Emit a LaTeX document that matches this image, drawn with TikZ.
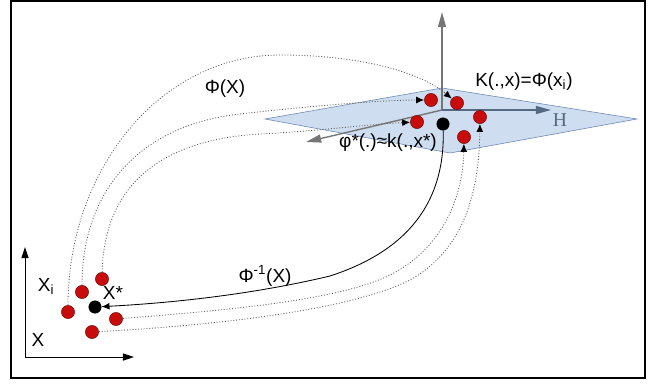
\documentclass[tikz,border=0pt]{standalone}
\usepackage{fontspec}
\setmainfont{Liberation Sans}
\newfontfamily\serifH{Liberation Serif}
\usepackage{tikz}
\usetikzlibrary{arrows.meta,calc}
\definecolor{dotred}{RGB}{200,12,12}
\definecolor{planeblue}{RGB}{206,221,240}
\definecolor{planeedge}{RGB}{105,135,175}
\definecolor{axisgrey}{RGB}{118,118,118}
\definecolor{axisblue}{RGB}{85,105,130}
\definecolor{mapgrey}{RGB}{95,95,95}
\tikzset{
    pt/.style={circle, draw=dotred!50!black, fill=dotred, line width=0.3pt, inner sep=0pt, minimum size=0.33cm},
    ptS/.style={circle, draw=black, fill=black, inner sep=0pt, minimum size=0.31cm},
    maplink/.style={mapgrey, line width=0.6pt, dash pattern=on 0.7pt off 1.3pt, -{Latex[length=0.2cm,width=0.17cm,color=black]}},
    invlink/.style={black, line width=0.6pt, -{Latex[length=0.2cm,width=0.17cm]}},
    axis/.style={axisgrey, line width=1pt, -{Triangle[length=0.38cm,width=0.2cm]}},
    baseaxis/.style={black, line width=0.7pt, -{Triangle[length=0.28cm,width=0.18cm]}},
    lbl/.style={font=\fontsize{13.5}{15}\selectfont, inner sep=0pt},
}

\begin{document}
\begin{tikzpicture}[x=0.025cm, y=-0.025cm]
    \useasboundingbox (0,0) rectangle (655,384);
    \draw[line width=0.05cm] (11,1) rectangle (645,378);

    % feature space plane
    \filldraw[fill=planeblue, draw=planeedge, line width=0.4pt]
        (265,119) -- (442,88) -- (637,119) -- (450,153) -- cycle;
    \coordinate (o) at (442,110);
    \coordinate (otop) at (442,12);
    \coordinate (oright) at (551,110);
    \coordinate (oleft) at (306,142);
    \draw[axis] (o) -- (otop);
    \draw[axis, axisblue] (o) -- (oright);
    \draw[axis] (o) -- (oleft);

    % input space axes
    \coordinate (xo) at (25,357);
    \coordinate (xtop) at (25,247);
    \coordinate (xright) at (134,357);
    \draw[baseaxis] (xo) -- (xtop);
    \draw[baseaxis] (xo) -- (xright);

    % points in X
    \node[pt] (xa) at (68,312) {};
    \node[pt] (xb) at (82,292) {};
    \node[pt] (xc) at (102,279) {};
    \node[pt] (xd) at (116,319) {};
    \node[pt] (xe) at (92,332) {};
    \node[ptS] (xs) at (95,307) {};

    % points in H
    \node[pt] (pa) at (431,100) {};
    \node[pt] (pb) at (457,103) {};
    \node[pt] (pc) at (480,117) {};
    \node[pt] (pd) at (417,122) {};
    \node[pt] (pe) at (464,137) {};
    \node[ptS] (ps) at (443,124) {};

    % mappings
    \draw[maplink] (xa) .. controls (68,170) and (160,55) .. (280,55)
        .. controls (360,55) and (420,72) .. (pb);
    \draw[maplink] (xb) .. controls (82,190) and (140,125) .. (240,114)
        .. controls (300,107) and (380,100) .. (pa);
    \draw[maplink] (xc) .. controls (104,190) and (155,140) .. (260,134)
        .. controls (320,131) and (370,124) .. (pd);
    \draw[maplink] (xd) .. controls (230,310) and (340,300) .. (390,275)
        .. controls (440,250) and (463,200) .. (pe);
    \draw[maplink] (xe) .. controls (220,325) and (350,310) .. (410,280)
        .. controls (460,252) and (479,200) .. (pc);
    \draw[invlink] (ps) .. controls (445,200) and (410,250) .. (330,276)
        .. controls (250,295) and (170,303) .. (xs);

    % labels
    \node[lbl] (lk) at (524,82) {K(.,x)=Φ(x\textsubscript{i})};
    \node[lbl] (lphi) at (388,143) {φ*(.)≈k(.,x*)};
    \node[lbl, font=\serifH\fontsize{14}{16}\selectfont, text=axisblue] (lh) at (560,120) {H};
    \node[lbl] (lmap) at (225,89) {Φ(X)};
    \node[lbl] (linv) at (265,276) {Φ\textsuperscript{-1}(X)};
    \node[lbl] (lxi) at (46,286) {X\textsubscript{i}};
    \node[lbl] (lxs) at (113,293) {X*};
    \node[lbl] (lx) at (38,340) {X};
\end{tikzpicture}
\end{document}
